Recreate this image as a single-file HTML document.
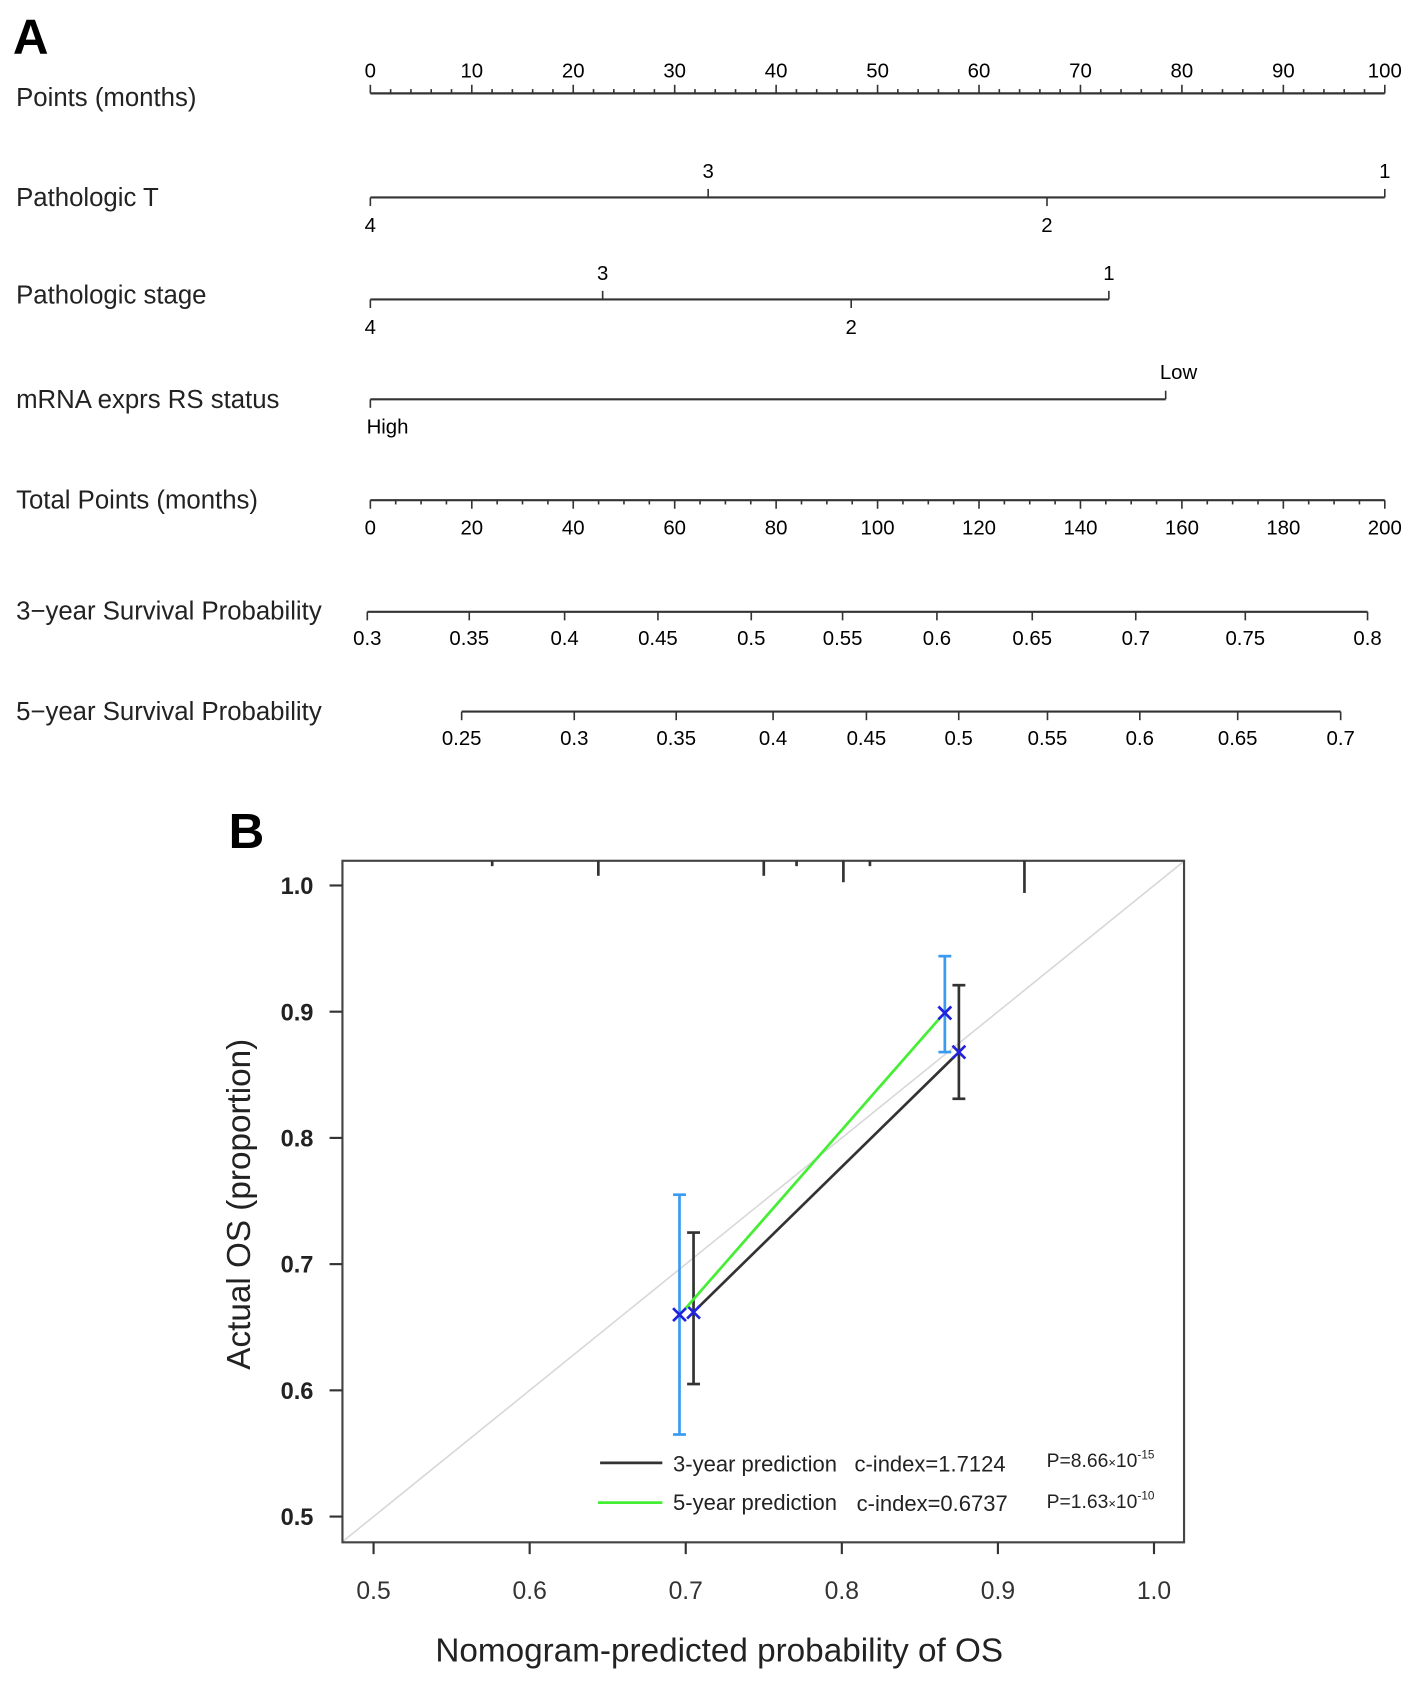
<!DOCTYPE html>
<html><head><meta charset="utf-8"><style>
html,body{margin:0;padding:0;background:#fff;}
svg{display:block;font-family:"Liberation Sans",Arial,sans-serif;}
</style></head><body>
<svg id="fig" width="1417" height="1684" viewBox="0 0 1320 1569" preserveAspectRatio="none" xmlns="http://www.w3.org/2000/svg"></svg>
<script>
// ---------- Panel A data ----------
const pointsTicks = [0,10,20,30,40,50,60,70,80,90,100];
const totalTicks = [0,20,40,60,80,100,120,140,160,180,200];
const pathTLevels = ["4","3","2","1"];
const pathTPoints = [0,33.3,66.7,100];
const stageLevels = ["4","3","2","1"];
const stagePoints = [0,22.9,47.4,72.8];
const rsLevels = ["High","Low"];
const rsPoints = [0,78.4];
const surv3Labels = ["0.3","0.35","0.4","0.45","0.5","0.55","0.6","0.65","0.7","0.75","0.8"];
const surv3TotalPts = [-0.6,19.5,38.3,56.7,75.1,93.1,111.7,130.5,150.9,172.5,196.6];
const surv5Labels = ["0.25","0.3","0.35","0.4","0.45","0.5","0.55","0.6","0.65","0.7"];
const surv5TotalPts = [18,40.2,60.3,79.4,97.8,116,133.5,151.7,171,191.3];
// ---------- Panel B data ----------
const xTicksB = [0.5,0.6,0.7,0.8,0.9,1.0];
const yTicksB = [0.5,0.6,0.7,0.8,0.9,1.0];
const pred3 = [0.705,0.875];
const obs3 = [0.662,0.868];
const lo3 = [0.605,0.831];
const hi3 = [0.725,0.921];
const pred5 = [0.696,0.866];
const obs5 = [0.660,0.899];
const lo5 = [0.565,0.868];
const hi5 = [0.755,0.944];
const rugX = [0.576,0.644,0.750,0.771,0.801,0.818,0.917];
const rugLen = [5,14,14,5,20,5,30];

const NS="http://www.w3.org/2000/svg";
const svg=document.getElementById('fig');
function mk(tag,attrs,parent){const e=document.createElementNS(NS,tag);for(const k in attrs)e.setAttribute(k,attrs[k]);(parent||svg).appendChild(e);return e;}
function txt(s,x,y,attrs,parent){const e=mk('text',Object.assign({x:x,y:y},attrs),parent);e.textContent=s;return e;}

const pX = v => 345 + v*(1290-345)/100;
const tX = v => 345 + v*(1290-345)/200;
const lineC="#333";
const A=mk('g',{});


const lab=txt('A',12,50,{'font-size':46,'font-weight':'bold'},A);



function rowLabel(s,y,name){const t=txt(s,15,y,{'font-size':24,fill:'#222'},A);

}
rowLabel('Points  (months)',99,'points-row-label');
rowLabel('Pathologic T',192,'pathologic-t-label');
rowLabel('Pathologic stage',283,'pathologic-stage-label');
rowLabel('mRNA exprs RS status',380,'mrna-rs-label');
rowLabel('Total Points  (months)',474,'total-points-label');
rowLabel('3\u2212year Survival Probability',577,'survival-3yr-label');
rowLabel('5\u2212year Survival Probability',671,'survival-5yr-label');

const pa=mk('g',{},A);


mk('line',{x1:pX(0),x2:pX(100),y1:87,y2:87,stroke:lineC,'stroke-width':2},pa);
for(let v=0;v<=100;v+=2){const big=v%10===0;mk('line',{x1:pX(v),x2:pX(v),y1:87,y2:big?79:83,stroke:lineC,'stroke-width':1.5},pa);}
pointsTicks.forEach(v=>txt(String(v),pX(v),72,{'font-size':19,'text-anchor':'middle'},pa));

function catRow(levels,pts,y,name){
  const g=mk('g',{},A);
  
  
  const mx=Math.max(...pts);
  mk('line',{x1:pX(0),x2:pX(mx),y1:y,y2:y,stroke:lineC,'stroke-width':2},g);
  levels.forEach((l,i)=>{const up=i%2===1;const x=pX(pts[i]);
    mk('line',{x1:x,x2:x,y1:y,y2:up?y-8:y+8,stroke:lineC,'stroke-width':1.5},g);
    if(l==='High'||l==='Low'){txt(l,x+(l==='Low'?12:16),up?y-19:y+32,{'font-size':19,'text-anchor':'middle'},g);}
    else txt(l,x,up?y-18:y+32,{'font-size':19,'text-anchor':'middle'},g);
  });
}
catRow(pathTLevels,pathTPoints,184,'pathologic-t-scale');
catRow(stageLevels,stagePoints,279,'pathologic-stage-scale');
catRow(rsLevels,rsPoints,372,'mrna-rs-scale');

const ta=mk('g',{},A);


mk('line',{x1:tX(0),x2:tX(200),y1:466,y2:466,stroke:lineC,'stroke-width':2},ta);
for(let v=0;v<=200;v+=5){const big=v%20===0;mk('line',{x1:tX(v),x2:tX(v),y1:466,y2:big?474:470,stroke:lineC,'stroke-width':1.5},ta);}
totalTicks.forEach(v=>txt(String(v),tX(v),498,{'font-size':19,'text-anchor':'middle'},ta));

function survAxis(labels,pts,y,name){
  const g=mk('g',{},A);
  
  
  mk('line',{x1:tX(pts[0]),x2:tX(pts[pts.length-1]),y1:y,y2:y,stroke:lineC,'stroke-width':2},g);
  labels.forEach((l,i)=>{const x=tX(pts[i]);mk('line',{x1:x,x2:x,y1:y,y2:y+8,stroke:lineC,'stroke-width':1.5},g);
    txt(l,x,y+31,{'font-size':19,'text-anchor':'middle'},g);});
}
survAxis(surv3Labels,surv3TotalPts,570,'survival-3yr-axis');
survAxis(surv5Labels,surv5TotalPts,663,'survival-5yr-axis');

// ---------- Panel B ----------
const B=mk('g',{});


const lb=txt('B',213,790,{'font-size':46,'font-weight':'bold'},B);


const bx = v => 348 + (v-0.5)*(1075-348)/0.5;
const by = v => 1413 - (v-0.5)*(1413-825)/0.5;
const L=319,R=1103,T=802,Bt=1437;
const clipR=mk('clipPath',{id:'plotclip'},B);
mk('rect',{x:L,y:T,width:R-L,height:Bt-T},clipR);
const diag=mk('line',{x1:bx(0.48),y1:by(0.48),x2:bx(1.02),y2:by(1.02),stroke:'#d8d8d8','stroke-width':1.5,'clip-path':'url(#plotclip)'},B);


const frame=mk('rect',{x:L,y:T,width:R-L,height:Bt-T,fill:'none',stroke:'#444','stroke-width':2},B);


rugX.forEach((v,i)=>{const r=mk('line',{x1:bx(v),x2:bx(v),y1:T,y2:T+rugLen[i],stroke:'#333','stroke-width':2.5},B);

});
const xa=mk('g',{},B);


xTicksB.forEach(v=>{mk('line',{x1:bx(v),x2:bx(v),y1:Bt,y2:Bt+11,stroke:'#333','stroke-width':2},xa);
  txt(v.toFixed(1),bx(v),1490,{'font-size':23,'text-anchor':'middle',fill:'#333'},xa);});
const ya=mk('g',{},B);


yTicksB.forEach(v=>{mk('line',{x1:L-12,x2:L,y1:by(v),y2:by(v),stroke:'#333','stroke-width':2},ya);
  txt(v.toFixed(1),292,by(v)+8,{'font-size':22,'font-weight':'bold','text-anchor':'end',fill:'#222'},ya);});
const xt=txt('Nomogram-predicted probability of OS',670,1548,{'font-size':31,'text-anchor':'middle',fill:'#222'},B);


const yt=txt('Actual OS (proportion)',0,0,{'font-size':31,'text-anchor':'middle',fill:'#222',transform:'translate(233,1122) rotate(-90)'},B);



function series(pred,obs,lo,hi,lineCol,errCol,name){
  const g=mk('g',{},B);
  
  
  mk('line',{x1:bx(pred[0])+4,y1:by(obs[0])-4,x2:bx(pred[1])-4,y2:by(obs[1])+4,stroke:lineCol,'stroke-width':2.5},g);
  pred.forEach((p,i)=>{const x=bx(p);
    mk('line',{x1:x,x2:x,y1:by(lo[i]),y2:by(hi[i]),stroke:errCol,'stroke-width':2.5},g);
    mk('line',{x1:x-6,x2:x+6,y1:by(lo[i]),y2:by(lo[i]),stroke:errCol,'stroke-width':2.5},g);
    mk('line',{x1:x-6,x2:x+6,y1:by(hi[i]),y2:by(hi[i]),stroke:errCol,'stroke-width':2.5},g);
    const y=by(obs[i]);
    mk('path',{d:`M${x-6},${y-6}L${x+6},${y+6}M${x+6},${y-6}L${x-6},${y+6}`,stroke:'#2222dd','stroke-width':2.5},g);
  });
}
series(pred3,obs3,lo3,hi3,'#333','#333','series-3yr');
series(pred5,obs5,lo5,hi5,'#44ee33','#3a9af0','series-5yr');

const lg=mk('g',{},B);


mk('line',{x1:559,x2:617,y1:1363,y2:1363,stroke:'#333','stroke-width':2.5},lg);
mk('line',{x1:557,x2:617,y1:1400,y2:1400,stroke:'#44ee33','stroke-width':2.5},lg);
txt('3-year prediction',627,1371,{'font-size':20.5,fill:'#222'},lg);
txt('5-year prediction',627,1407,{'font-size':20.5,fill:'#222'},lg);
txt('c-index=1.7124',796,1371,{'font-size':20.5,fill:'#222'},lg);
txt('c-index=0.6737',798,1408,{'font-size':20.5,fill:'#222'},lg);
const p1=txt('P=8.66',975,1367,{'font-size':18,fill:'#222'},lg);
const s1=mk('tspan',{'font-size':12},p1);s1.textContent='\u00d7';
const s1b=mk('tspan',{'font-size':18},p1);s1b.textContent='10';
const s1c=mk('tspan',{'font-size':11,dy:-8},p1);s1c.textContent='-15';
const p2=txt('P=1.63',975,1405,{'font-size':18,fill:'#222'},lg);
const s2=mk('tspan',{'font-size':12},p2);s2.textContent='\u00d7';
const s2b=mk('tspan',{'font-size':18},p2);s2b.textContent='10';
const s2c=mk('tspan',{'font-size':11,dy:-8},p2);s2c.textContent='-10';
</script>
</body></html>
